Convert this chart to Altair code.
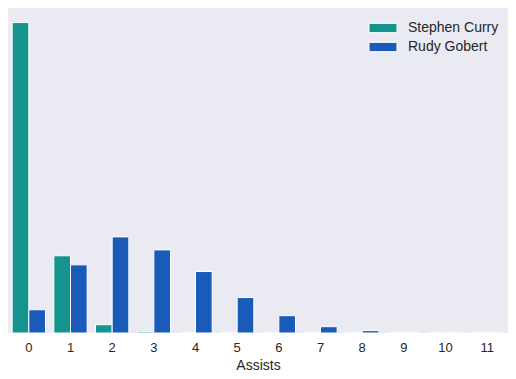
import altair as alt
import pandas as pd

assists = [0, 1, 2, 3, 4, 5, 6, 7, 8, 9, 10, 11]
curry = [0.788, 0.196, 0.021, 0.003, 0.0, 0.0, 0.0, 0.0, 0.0, 0.0, 0.0, 0.0]
gobert = [0.059, 0.173, 0.244, 0.211, 0.156, 0.090, 0.044, 0.016, 0.006, 0.0015, 0.0, 0.0]
players = ["Stephen Curry", "Rudy Gobert"]
colors = ["#15948F", "#1A5BBA"]

rows = []
for a, c, g in zip(assists, curry, gobert):
    rows.append({"Assists": a, "player": players[0], "value": c})
    rows.append({"Assists": a, "player": players[1], "value": g})
df = pd.DataFrame(rows)

chart = alt.Chart(df).mark_bar(stroke="white", strokeWidth=1).encode(
    x=alt.X("Assists:O", title="Assists",
            scale=alt.Scale(paddingInner=0.2, paddingOuter=0.1),
            axis=alt.Axis(labelAngle=0, labelFontSize=13, labelColor="#262626",
                          ticks=False, domain=False, labelPadding=8,
                          titleFontSize=14, titleFontWeight="normal",
                          titleColor="#262626", titlePadding=4, grid=False)),
    xOffset=alt.XOffset("player:N", scale=alt.Scale(domain=players, paddingInner=0, paddingOuter=0)),
    y=alt.Y("value:Q", scale=alt.Scale(domain=[0, 0.825], nice=False, zero=True), axis=None),
    color=alt.Color("player:N", scale=alt.Scale(domain=players, range=colors),
                    legend=alt.Legend(title=None, orient="none", legendX=368, legendY=13,
                                      padding=0,
                                      labelFontSize=14, labelColor="#262626",
                                      symbolType="M-3,-1L3,-1L3,1L-3,1Z",
                                      symbolSize=87, symbolStrokeColor="white",
                                      symbolStrokeWidth=1, symbolOpacity=1,
                                      rowPadding=5, labelOffset=18)),
).properties(width=500, height=325, padding=0, background="white").configure(
    font="Liberation Sans"
).configure_view(
    fill="#EAEAF2", stroke=None
)

chart.save("out.html", embed_options={"renderer": "svg", "actions": False})
